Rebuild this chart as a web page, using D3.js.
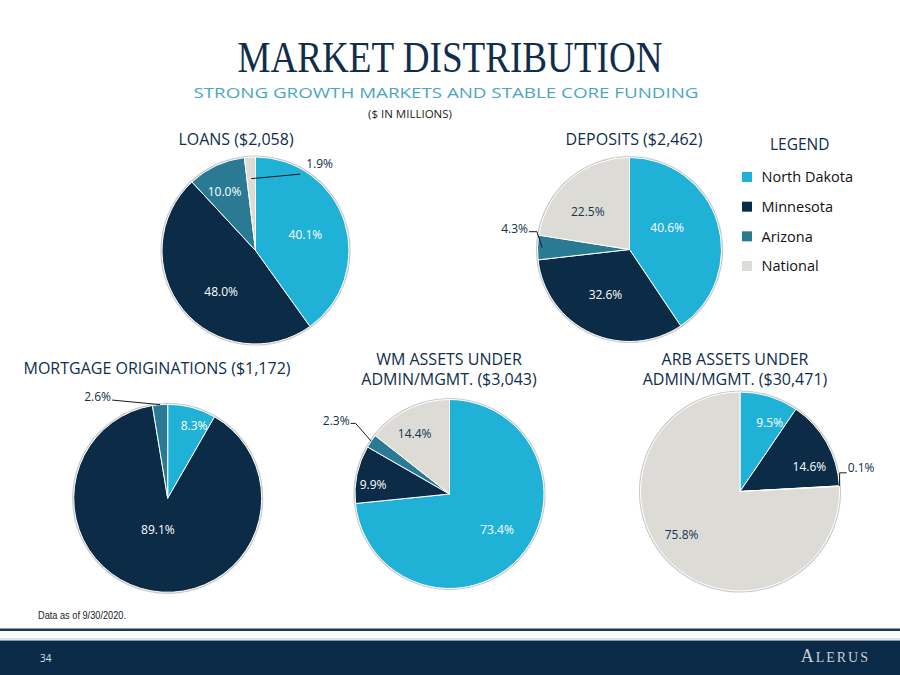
<!DOCTYPE html>
<html><head><meta charset="utf-8">
<script src="https://cdn.jsdelivr.net/npm/d3@7"></script>
<style>
html,body{margin:0;padding:0;background:#fff;}
svg{display:block;}
</style></head>
<body>
<svg id="chart" width="900" height="675"></svg>
<script>
// ---------- DATA ----------
const regions = ["North Dakota", "Minnesota", "Arizona", "National"];
const loans = [40.1, 48.0, 10.0, 1.9];
const deposits = [40.6, 32.6, 4.3, 22.5];
const mortgage = [8.3, 89.1, 2.6, 0];
const wmAssets = [73.4, 9.9, 2.3, 14.4];
const arbAssets = [9.5, 14.6, 0.1, 75.8];
const chartTitles = [
  ["LOANS ($2,058)"],
  ["DEPOSITS ($2,462)"],
  ["MORTGAGE ORIGINATIONS ($1,172)"],
  ["WM ASSETS UNDER", "ADMIN/MGMT. ($3,043)"],
  ["ARB ASSETS UNDER", "ADMIN/MGMT. ($30,471)"]
];
const seriesList = [loans, deposits, mortgage, wmAssets, arbAssets];

// ---------- LAYOUT / STYLE ----------
const colors = ["#20b1d6", "#0b2b47", "#2b7a93", "#dcdbd6"];
const labelColors = ["#ffffff", "#ffffff", "#ffffff", "#17344f"];
const darkText = "#0f2e4c";
const layout = [
  { cx: 255.5, cy: 250.5, r: 93.5, titleX: 236, titleY: [145],
    lab: [{da:0,f:0.56},{da:-11,f:0.575},{da:-3,f:0.71},
          {da:40,f:1.15,out:{side:"left",gap:6,dy:10,knee:0,endF:0.77}}] },
  { cx: 629.5, cy: 249.5, r: 92, titleX: 634, titleY: [145],
    lab: [{da:-12.5,f:0.47},{da:3,f:0.56},
          {da:9,f:1.27,out:{side:"right",gap:1,dy:3,knee:8,endF:0.95}},{da:-7.5,f:0.61}] },
  { cx: 167.7, cy: 498.3, r: 94, titleX: 157, titleY: [374],
    lab: [{da:5,f:0.825},{da:7,f:0.35},
          {da:-30,f:1.31,out:{side:"right",gap:1,dy:3,knee:0,endF:1}},null] },
  { cx: 449.5, cy: 494, r: 94.5, titleX: 449, titleY: [365, 385],
    lab: [{da:-5,f:0.63},{da:-5,f:0.815},
          {da:-1,f:1.43,out:{side:"right",gap:1,dy:3,knee:5,endF:1}},{da:-4,f:0.74}] },
  { cx: 740, cy: 491.5, r: 99.5, titleX: 735, titleY: [365, 385],
    lab: [{da:6.4,f:0.75},{da:10,f:0.74},
          {da:-8,f:1.24,out:{side:"left",gap:1,dy:5,knee:7,endF:1}},{da:10,f:0.73}] }
];

const svg = d3.select("#chart");
const font = "'Open Sans', sans-serif";

// ---------- HEADER ----------
svg.append("text").attr("x", 450).attr("y", 72).attr("text-anchor", "middle")
  .attr("font-family", "'Liberation Serif', serif").attr("font-size", 44)
  .attr("fill", darkText).attr("textLength", 425).attr("lengthAdjust", "spacingAndGlyphs")
  .text("MARKET DISTRIBUTION");
svg.append("text").attr("x", 446).attr("y", 98).attr("text-anchor", "middle")
  .attr("font-family", font).attr("font-size", 15)
  .attr("fill", "#4aa6c3").attr("textLength", 505).attr("lengthAdjust", "spacingAndGlyphs")
  .text("STRONG GROWTH MARKETS AND STABLE CORE FUNDING");
svg.append("text").attr("x", 410).attr("y", 118).attr("text-anchor", "middle")
  .attr("font-family", font).attr("font-size", 11.5).attr("fill", "#1a1a1a")
  .text("($ IN MILLIONS)");

// ---------- PIES ----------
const pie = d3.pie().sort(null).value(d => d.v);

seriesList.forEach((vals, ci) => {
  const L = layout[ci];
  const g = svg.append("g").attr("transform", `translate(${L.cx},${L.cy})`);
  chartTitles[ci].forEach((t, li) => {
    svg.append("text").attr("x", L.titleX).attr("y", L.titleY[li])
      .attr("text-anchor", "middle").attr("font-family", font).attr("font-size", 16)
      .attr("fill", darkText).text(t);
  });
  const data = vals.map((v, i) => ({ v, i }));
  const arcs = pie(data);
  const arc = d3.arc().innerRadius(0).outerRadius(L.r);
  g.append("circle").attr("r", L.r + 0.8).attr("fill", "none")
    .attr("stroke", "#c9c9c9").attr("stroke-width", 1.6);
  g.selectAll("path.slice").data(arcs.filter(a => a.data.v > 0)).enter()
    .append("path").attr("class", "slice")
    .attr("d", arc).attr("fill", d => colors[d.data.i])
    .attr("stroke", "#ffffff").attr("stroke-width", 1).attr("stroke-linejoin", "round");

  arcs.forEach((a, k) => {
    const spec = L.lab[k];
    if (!spec || a.data.v <= 0) return;
    const mid = (a.startAngle + a.endAngle) / 2;
    const ang = mid + spec.da * Math.PI / 180;
    const x = Math.sin(ang) * L.r * spec.f;
    const y = -Math.cos(ang) * L.r * spec.f;
    const txt = g.append("text").attr("x", x).attr("y", y).attr("dy", "0.35em")
      .attr("text-anchor", "middle").attr("font-family", font).attr("font-size", 12)
      .attr("fill", spec.out ? darkText : labelColors[a.data.i])
      .text(a.data.v.toFixed(1) + "%");
    if (spec.out) {
      const o = spec.out;
      const w = txt.node().getComputedTextLength();
      const sx = o.side === "right" ? x + w / 2 + o.gap : x - w / 2 - o.gap;
      const sy = y + o.dy;
      const kx = o.side === "right" ? sx + o.knee : sx - o.knee;
      const ex = Math.sin(mid) * L.r * o.endF;
      const ey = -Math.cos(mid) * L.r * o.endF;
      g.append("path")
        .attr("d", d3.line()([[sx, sy], [kx, sy], [ex, ey]]))
        .attr("fill", "none").attr("stroke", "#1a1a1a").attr("stroke-width", 1);
    }
  });
});

// ---------- LEGEND ----------
svg.append("text").attr("x", 770).attr("y", 149.5).attr("font-family", font)
  .attr("font-size", 15.5).attr("fill", darkText).text("LEGEND");
const legendY = d3.scalePoint().domain(regions).range([177, 266]);
const lg = svg.append("g").selectAll("g").data(regions).enter().append("g")
  .attr("transform", d => `translate(742,${legendY(d)})`);
lg.append("rect").attr("x", 0).attr("y", -5).attr("width", 10).attr("height", 10)
  .attr("fill", (d, i) => colors[i]);
lg.append("text").attr("x", 19.5).attr("y", 0).attr("dy", "0.36em")
  .attr("font-family", font).attr("font-size", 14.5).attr("fill", "#111")
  .text(d => d);

// ---------- FOOTER ----------
svg.append("text").attr("x", 38).attr("y", 619).attr("font-family", "'Liberation Sans', Arial, sans-serif")
  .attr("font-size", 10).attr("fill", "#222").attr("textLength", 88).attr("lengthAdjust", "spacingAndGlyphs")
  .text("Data as of 9/30/2020.");
svg.append("rect").attr("x", 0).attr("y", 628.5).attr("width", 900).attr("height", 2.5).attr("fill", "#1d3954");
svg.append("rect").attr("x", 0).attr("y", 638.5).attr("width", 900).attr("height", 1).attr("fill", "#b9c7d4");
svg.append("rect").attr("x", 0).attr("y", 640.5).attr("width", 900).attr("height", 35).attr("fill", "#0a2a47");
svg.append("text").attr("x", 40).attr("y", 662).attr("font-family", font)
  .attr("font-size", 10).attr("fill", "#d9e1ea").text("34");
const logo = svg.append("text").attr("x", 870).attr("y", 662).attr("text-anchor", "end")
  .attr("font-family", "'Liberation Serif', serif").attr("fill", "#c6cfda").attr("letter-spacing", 2);
logo.append("tspan").attr("font-size", 18).text("A");
logo.append("tspan").attr("font-size", 14).text("LERUS");
</script>
</body></html>
